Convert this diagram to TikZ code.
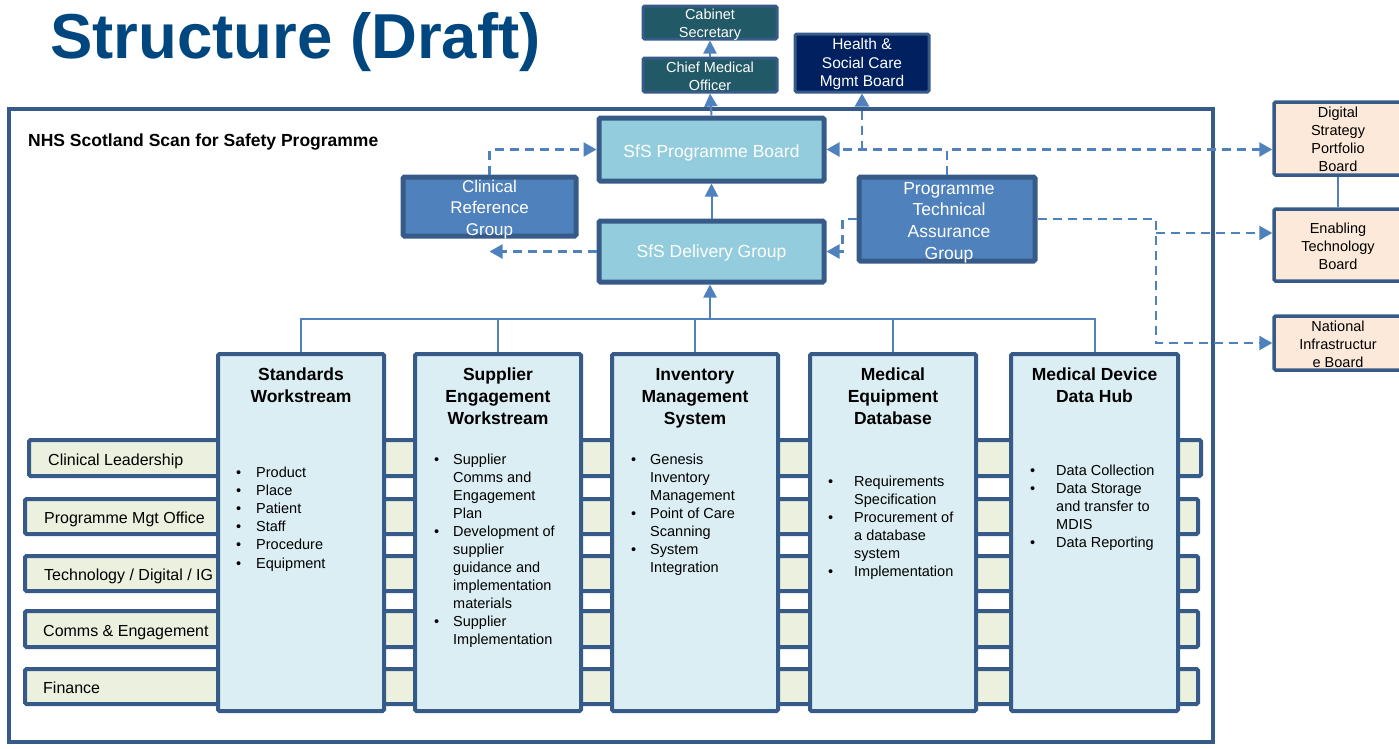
\documentclass[tikz,border=0pt]{standalone}
\usepackage{fontspec}
\setmainfont{Liberation Sans}
\usetikzlibrary{arrows.meta}
\definecolor{bord}{HTML}{375B88}
\definecolor{connblue}{HTML}{4F81BD}
\definecolor{titleblue}{HTML}{00467F}
\definecolor{tealbox}{HTML}{215967}
\definecolor{navybox}{HTML}{002060}
\definecolor{lightbluebox}{HTML}{93CDDD}
\definecolor{midbluebox}{HTML}{4F81BD}
\definecolor{palebluebox}{HTML}{DBEEF4}
\definecolor{palegreenbox}{HTML}{EBF1DE}
\definecolor{peachbox}{HTML}{FDE9D9}
\newcommand{\fs}[2]{\fontsize{#1}{#2}\selectfont}
\newcommand{\ctab}[1]{\begin{tabular}[t]{@{}c@{}}#1\end{tabular}}
\newcommand{\btab}[2]{\begin{tabular}[t]{@{}p{#1}@{}l@{}}#2\end{tabular}}
\newcommand{\bu}{\textbullet}
\begin{document}
\begin{tikzpicture}[x=1pt,y=-1pt,
  mybox/.style={draw=bord, line width=4pt, rounded corners=1.5pt, inner sep=0pt},
  smallbox/.style={mybox, line width=3pt},
  rowbox/.style={draw=bord, fill=palegreenbox, line width=4pt, rounded corners=1.5pt, inner sep=0pt},
  wsbox/.style={draw=bord, fill=palebluebox, line width=4pt, rounded corners=1.5pt, inner sep=0pt, minimum width=166pt, minimum height=357pt},
  rightbox/.style={mybox, fill=peachbox, line width=3.5pt, minimum width=128pt},
  boxtext/.style={anchor=base, inner sep=0pt},
  wstitle/.style={anchor=base, inner sep=0pt, font=\fs{17.5}{22}\bfseries},
  wslist/.style={anchor=base west, inner sep=0pt, font=\fs{14.5}{18}},
  rowtext/.style={anchor=base west, inner sep=0pt, font=\fs{16}{19}},
  conn/.style={draw=connblue, line width=2pt},
  arr/.style={conn, -{Triangle[length=13pt,width=13pt]}},
  dashconn/.style={draw=connblue, line width=2.5pt, dash pattern=on 9pt off 6pt},
  darr/.style={dashconn, -{Triangle[length=13pt,width=14pt]}}
]
\useasboundingbox (0,0) rectangle (1399,748);

% title
\node[anchor=base west, inner sep=0pt, font=\fs{63.5}{70}\bfseries, text=titleblue] (title) at (50,58) {Structure (Draft)};

% outer frame
\node[draw=bord, line width=4.5pt, inner sep=0pt, minimum width=1204pt, minimum height=633pt] (frame) at (611,425.5) {};
\node[anchor=base west, inner sep=0pt, font=\fs{17.5}{20}\bfseries] (nhs) at (28,146) {NHS Scotland Scan for Safety Programme};

% top boxes
\node[smallbox, fill=tealbox, minimum width=134pt, minimum height=33pt] (cab) at (710,22.5) {};
\node[smallbox, fill=tealbox, minimum width=134pt, minimum height=34pt] (cmo) at (710,75) {};
\node[smallbox, fill=navybox, minimum width=134pt, minimum height=58pt] (hsc) at (862,63) {};
\node[mybox, line width=5pt, fill=lightbluebox, minimum width=225pt, minimum height=63pt] (pb) at (711.5,149.5) {};
\node[mybox, line width=5pt, fill=lightbluebox, minimum width=225pt, minimum height=61pt] (dg) at (711.5,251.5) {};
\node[mybox, line width=5pt, fill=midbluebox, minimum width=173pt, minimum height=59pt] (crg) at (489.5,206.5) {};
\node[mybox, line width=5pt, fill=midbluebox, minimum width=176pt, minimum height=84pt] (ptag) at (947,219) {};

\node[boxtext, text=white, font=\fs{14.5}{18}] (cabt) at (710,19) {\ctab{Cabinet\\Secretary}};
\node[boxtext, text=white, font=\fs{14.5}{18}] (cmot) at (710,72) {\ctab{Chief Medical\\Officer}};
\node[boxtext, text=white, font=\fs{15.5}{18.5}] (hsct) at (862,49.5) {\ctab{Health \&\\Social Care\\Mgmt Board}};
\node[boxtext, text=white, font=\fs{17.5}{21}] (pbt) at (711.5,157) {SfS Programme Board};
\node[boxtext, text=white, font=\fs{17.5}{21}] (dgt) at (711.5,257.5) {SfS Delivery Group};
\node[boxtext, text=white, font=\fs{17}{21.5}] (crgt) at (489.5,192) {\ctab{Clinical\\Reference\\Group}};
\node[boxtext, text=white, font=\fs{17.5}{21.7}] (ptagt) at (949,194) {\ctab{Programme\\Technical\\Assurance\\Group}};

% right boxes
\node[rightbox, minimum height=73pt] (dsp) at (1338,138.5) {};
\node[rightbox, minimum height=72pt] (etb) at (1338,245) {};
\node[rightbox, minimum height=54pt] (nib) at (1338,343) {};
\node[boxtext, font=\fs{14.5}{18}] (dspt) at (1338,117) {\ctab{Digital\\Strategy\\Portfolio\\Board}};
\node[boxtext, font=\fs{14.5}{18}] (etbt) at (1338,233) {\ctab{Enabling\\Technology\\Board}};
\node[boxtext, font=\fs{14.5}{18}] (nibt) at (1338,331) {\ctab{National\\Infrastructur\\e Board}};

% rows
\node[rowbox, minimum width=1172pt, minimum height=36pt] (r1) at (615,458) {};
\node[rowbox, minimum width=1173pt, minimum height=35pt] (r2) at (611.5,516.5) {};
\node[rowbox, minimum width=1173pt, minimum height=35pt] (r3) at (611.5,573.5) {};
\node[rowbox, minimum width=1173pt, minimum height=36pt] (r4) at (611.5,629) {};
\node[rowbox, minimum width=1173pt, minimum height=35pt] (r5) at (611.5,686.5) {};
\node[rowtext] (t1) at (48,465) {Clinical Leadership};
\node[rowtext] (t2) at (44,523) {Programme Mgt Office};
\node[rowtext] (t3) at (44,580) {Technology / Digital / IG};
\node[rowtext] (t4) at (43,636) {Comms \& Engagement};
\node[rowtext] (t5) at (43,693) {Finance};

% workstreams
\node[wsbox] (ws1) at (301,532.5) {};
\node[wsbox] (ws2) at (498,532.5) {};
\node[wsbox] (ws3) at (695,532.5) {};
\node[wsbox] (ws4) at (893,532.5) {};
\node[wsbox, minimum width=167pt] (ws5) at (1094.5,532.5) {};

\node[wstitle] (h1) at (301,380) {\ctab{Standards\\Workstream}};
\node[wstitle] (h2) at (498,380) {\ctab{Supplier\\Engagement\\Workstream}};
\node[wstitle] (h3) at (695,380) {\ctab{Inventory\\Management\\System}};
\node[wstitle] (h4) at (893,380) {\ctab{Medical\\Equipment\\Database}};
\node[wstitle] (h5) at (1094.5,380) {\ctab{Medical Device\\Data Hub}};

\node[wslist, font=\fs{14.5}{18.2}] (l1) at (236,477) {\btab{20pt}{\bu&Product\\\bu&Place\\\bu&Patient\\\bu&Staff\\\bu&Procedure\\\bu&Equipment}};
\node[wslist] (l2) at (434,464) {\btab{19pt}{\bu&Supplier\\&Comms and\\&Engagement\\&Plan\\\bu&Development of\\&supplier\\&guidance and\\&implementation\\&materials\\\bu&Supplier\\&Implementation}};
\node[wslist] (l3) at (631,464) {\btab{19pt}{\bu&Genesis\\&Inventory\\&Management\\\bu&Point of Care\\&Scanning\\\bu&System\\&Integration}};
\node[wslist] (l4) at (828,486) {\btab{26pt}{\bu&Requirements\\&Specification\\\bu&Procurement of\\&a database\\&system\\\bu&Implementation}};
\node[wslist] (l5) at (1030,475) {\btab{26pt}{\bu&Data Collection\\\bu&Data Storage\\&and transfer to\\&MDIS\\\bu&Data Reporting}};

% solid connectors
\draw[arr] (cmo.north) -- (cab.south);
\draw[arr] (pb.north) -- (cmo.south);
\draw[arr] (dg.north) -- (pb.south);
\coordinate (bus) at (710,319);
\draw[conn] (ws1.north) |- (bus);
\draw[conn] (ws5.north) |- (bus);
\draw[conn] (ws2.north) -- (ws2.north |- bus);
\draw[conn] (ws3.north) -- (ws3.north |- bus);
\draw[conn] (ws4.north) -- (ws4.north |- bus);
\draw[arr] (bus) -- (bus |- dg.south);
\draw[conn] (dsp.south) -- (etb.north);

% dashed connectors
\draw[darr] (crg.north) |- (pb.west);
\draw[darr] (dg.west) -- (dg.west -| crg.south);
\draw[darr] (ptag.north) |- (pb.east);
\draw[darr] (ptag.north) |- ([yshift=-11pt]dsp.west);
\draw[darr] (hsc.south |- pb.east) -- (hsc.south);
\draw[darr] (ptag.west) -- ++(-14,0) |- (dg.east);
\coordinate (jn) at (1156,219);
\draw[darr] (ptag.east) -- (jn) |- (nib.west);
\draw[darr] (jn |- 0,233) -- ([yshift=12pt]etb.west);
\end{tikzpicture}
\end{document}
